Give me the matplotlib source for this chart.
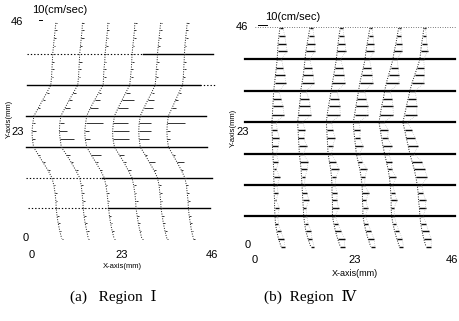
# velocity profiles, Region I / Region IV
import numpy as np
import matplotlib
matplotlib.use("Agg")
import matplotlib.pyplot as plt

plt.rcParams["font.family"] = ["Liberation Sans", "DejaVu Sans"]

# y levels of the measuring points (mm)
levels = [45.8, 44.2, 42.6, 41.0, 39.3, 37.6, 36.0, 34.4, 32.7, 31.1, 29.5, 27.8,
          26.2, 24.6, 22.9, 21.3, 19.6, 18.0, 16.4, 14.7, 13.1, 11.5, 9.9, 8.3,
          6.7, 5.1, 3.5, 1.9, 0.3]
wall_y = [39.3, 32.7, 26.2, 19.6, 13.1, 6.7]

# ---- Region I ----
left_x = [5.6, 12.6, 19.0, 26.0, 32.5, 39.4]
left_off = [
    [0.5, 0.3, 0.1, -0.1, -0.3, -0.4, -0.5, -0.6, -0.8, -1.8, -2.9, -4.0, -5.1, -5.4, -5.6,
     -5.5, -5.2, -4.0, -2.8, -1.5, -0.5, 0.0, 0.3, 0.5, 0.6, 0.8, 1.1, 1.5, 2.0],
    [0.3, 0.2, 0.0, -0.2, -0.4, -0.5, -0.6, -0.7, -0.9, -2.0, -3.1, -4.2, -5.2, -5.5, -5.6,
     -5.4, -5.1, -3.8, -2.6, -1.4, -0.4, 0.0, 0.2, 0.4, 0.5, 0.7, 1.0, 1.4, 1.8],
    [0.4, 0.3, 0.1, -0.1, -0.3, -0.4, -0.6, -0.7, -0.8, -1.9, -3.0, -4.1, -5.0, -5.3, -5.5,
     -5.4, -5.0, -3.9, -2.7, -1.5, -0.5, -0.1, 0.2, 0.4, 0.6, 0.8, 1.1, 1.5, 2.0],
    [0.3, 0.2, 0.0, -0.2, -0.4, -0.5, -0.6, -0.8, -1.0, -2.0, -3.0, -4.0, -4.9, -5.2, -5.4,
     -5.3, -4.9, -3.7, -2.5, -1.4, -0.4, 0.0, 0.3, 0.5, 0.6, 0.9, 1.2, 1.6, 2.1],
    [0.4, 0.2, 0.0, -0.2, -0.4, -0.5, -0.7, -0.8, -1.0, -1.9, -2.9, -3.9, -4.8, -5.1, -5.2,
     -5.1, -4.8, -3.6, -2.5, -1.3, -0.4, 0.0, 0.2, 0.4, 0.5, 0.8, 1.1, 1.5, 2.0],
    [0.3, 0.1, -0.1, -0.3, -0.4, -0.5, -0.6, -0.7, -0.9, -1.8, -2.7, -3.6, -4.5, -4.8, -4.9,
     -4.8, -4.5, -3.4, -2.3, -1.2, -0.3, 0.1, 0.3, 0.5, 0.6, 0.8, 1.1, 1.4, 1.9],
]
left_len = [
    [0.4, 0.6, 0.4, 0.5, 0.2, 0.5, 0.6, 0.4, 0.2, 0.5, 0.6, 0.5, 0.2, 0.6, 0.9,
     0.6, 0.2, 0.5, 0.6, 0.5, 0.2, 0.4, 0.5, 0.4, 0.2, 0.4, 0.5, 0.4, 0.3],
    [0.5, 0.4, 0.6, 0.4, 0.2, 0.6, 0.5, 0.4, 0.2, 0.6, 0.8, 1.2, 0.2, 1.0, 2.0,
     3.6, 0.2, 1.0, 0.6, 0.5, 0.2, 0.5, 0.4, 0.5, 0.2, 0.5, 0.4, 0.5, 0.3],
    [0.4, 0.5, 0.4, 0.6, 0.2, 0.4, 0.6, 0.5, 0.2, 0.6, 1.5, 2.0, 0.2, 4.4, 1.0,
     1.2, 0.2, 2.5, 0.6, 0.4, 0.2, 0.4, 0.5, 0.4, 0.2, 0.5, 0.4, 0.4, 0.3],
    [0.5, 0.4, 0.5, 0.4, 0.2, 0.5, 0.4, 0.6, 0.2, 1.0, 3.0, 2.6, 0.2, 3.8, 4.2,
     4.0, 0.2, 1.2, 0.5, 0.6, 0.2, 0.5, 0.4, 0.5, 0.2, 0.4, 0.5, 0.4, 0.3],
    [0.4, 0.6, 0.4, 0.5, 0.2, 0.6, 0.5, 0.4, 0.2, 0.5, 1.6, 2.4, 0.2, 3.0, 3.2,
     2.6, 0.2, 0.6, 1.5, 0.5, 0.2, 0.4, 0.5, 0.4, 0.2, 0.5, 0.4, 0.5, 0.3],
    [0.5, 0.4, 0.5, 0.4, 0.2, 0.4, 0.5, 0.4, 0.2, 0.5, 0.6, 1.0, 0.2, 4.6, 0.8,
     0.6, 0.2, 0.5, 1.8, 0.4, 0.2, 0.5, 0.4, 0.5, 0.2, 0.4, 0.5, 0.4, 0.3],
]
# wall lines: (y, x_start, x_end)
left_solid = [(39.3, 28.4, 46.4), (32.7, -1.3, 43.0), (26.2, -1.5, 44.5),
              (19.6, -1.5, 44.8), (13.1, 17.9, 46.0), (6.7, 19.4, 45.6)]
left_dotted = [(39.3, -1.3, 28.4), (32.7, 43.0, 47.0), (13.1, -1.5, 17.9),
               (6.7, -1.0, 19.4)]

# ---- Region IV ----
right_x = [5.6, 12.4, 19.4, 26.3, 32.8, 38.8]
right_off = [
    [0.1, -0.1, -0.3, -0.4, -0.5, -0.7, -0.9, -1.1, -1.3, -1.4, -1.5, -1.6, -1.7, -1.7, -1.6,
     -1.6, -1.5, -1.4, -1.3, -1.3, -1.2, -1.2, -1.1, -1.1, -1.0, -0.9, -0.6, -0.2, 0.4],
    [0.2, -0.1, -0.4, -0.7, -0.9, -1.1, -1.3, -1.6, -1.9, -2.0, -2.2, -2.4, -2.6, -2.5, -2.4,
     -2.3, -2.2, -2.0, -1.8, -1.7, -1.6, -1.5, -1.4, -1.3, -1.2, -1.0, -0.7, -0.2, 0.4],
    [0.2, -0.1, -0.3, -0.5, -0.7, -1.0, -1.3, -1.6, -1.9, -2.2, -2.5, -2.8, -3.0, -2.9, -2.8,
     -2.7, -2.6, -2.3, -2.0, -1.8, -1.7, -1.7, -1.6, -1.6, -1.6, -1.3, -0.9, -0.4, 0.2],
    [0.1, -0.2, -0.5, -0.8, -1.0, -1.4, -1.8, -2.2, -2.5, -2.8, -3.1, -3.4, -3.7, -3.6, -3.4,
     -3.2, -3.0, -2.6, -2.2, -1.9, -1.7, -1.6, -1.6, -1.5, -1.5, -1.2, -0.8, -0.3, 0.3],
    [0.2, -0.1, -0.4, -0.8, -1.1, -1.6, -2.1, -2.6, -3.0, -3.3, -3.7, -4.0, -4.3, -4.0, -3.7,
     -3.4, -3.0, -2.6, -2.2, -1.9, -1.7, -1.6, -1.5, -1.5, -1.4, -1.1, -0.7, -0.2, 0.4],
    [0.0, -0.2, -0.5, -0.7, -0.9, -1.5, -2.1, -2.7, -3.2, -3.6, -4.0, -4.4, -4.8, -4.4, -4.0,
     -3.6, -3.2, -2.7, -2.2, -1.8, -1.5, -1.3, -1.2, -1.0, -0.9, -0.7, -0.4, 0.0, 0.5],
]
right_len = [
    [0.8, 1.3, 1.8, 2.2, 1.0, 1.6, 2.1, 2.6, 1.2, 1.8, 2.3, 2.7, 1.0, 1.2, 1.6,
     1.4, 0.8, 1.2, 0.6, 1.4, 0.7, 0.9, 0.4, 1.1, 0.6, 0.7, 0.9, 1.2, 0.9],
    [0.7, 1.2, 1.7, 2.1, 1.1, 1.7, 2.3, 2.8, 1.3, 1.9, 2.5, 2.9, 1.2, 1.6, 1.2,
     1.8, 0.9, 1.8, 1.4, 0.8, 0.6, 1.0, 1.4, 0.6, 0.7, 0.8, 1.2, 0.9, 0.8],
    [0.6, 1.1, 1.6, 2.0, 1.0, 1.8, 2.4, 2.9, 1.4, 2.0, 2.6, 3.0, 1.2, 1.4, 1.8,
     1.2, 0.8, 1.5, 1.9, 1.0, 0.7, 1.2, 1.0, 1.4, 0.6, 1.0, 1.3, 1.6, 1.0],
    [0.6, 1.0, 1.5, 1.9, 1.0, 1.8, 2.5, 3.0, 1.4, 2.1, 2.7, 3.1, 1.3, 1.5, 1.2,
     1.7, 0.8, 1.0, 1.6, 0.9, 0.6, 1.4, 0.8, 1.1, 0.6, 0.9, 1.1, 1.4, 1.0],
    [0.5, 0.9, 1.4, 1.8, 1.0, 1.7, 2.4, 2.9, 1.3, 2.0, 2.6, 3.0, 1.2, 1.8, 1.4,
     2.0, 0.9, 1.2, 0.8, 1.5, 0.6, 0.9, 1.3, 0.7, 0.6, 0.8, 1.0, 1.3, 0.9],
    [0.4, 0.8, 1.2, 1.6, 0.9, 1.6, 2.2, 2.7, 1.2, 1.9, 2.4, 2.8, 1.1, 1.6, 2.0,
     2.2, 1.0, 2.2, 2.4, 2.6, 1.0, 1.2, 1.6, 1.4, 0.8, 1.2, 1.5, 1.7, 1.2],
]

ticks = [0, 23, 46]

W, H = 460, 321
fig = plt.figure(figsize=(W / 100, H / 100), dpi=100)


def make_axes(x0px, sx, y0px, sy, xlim, ylim):
    # pixel mapping: px = x0px + sx*mm ; py = y0px - sy*mm
    l = x0px + sx * xlim[0]
    r = x0px + sx * xlim[1]
    b = y0px - sy * ylim[0]
    t = y0px - sy * ylim[1]
    ax = fig.add_axes([l / W, (H - b) / H, (r - l) / W, (b - t) / H])
    ax.set_xlim(*xlim)
    ax.set_ylim(*ylim)
    ax.axis("off")
    return ax


def draw_profiles(ax, xs, offs, lens, lw_tick, tick_col, tips=False):
    for x0, off, ln in zip(xs, offs, lens):
        cx = x0 + np.array(off)
        ax.plot(cx, levels, ls=(0, (1, 1.5)), lw=0.7, color="0.1")
        ax.hlines(levels, cx, cx + np.array(ln), color=tick_col, lw=lw_tick)
        if tips:
            ax.plot(cx + np.array(ln), levels, ls=(0, (1, 2.5)), lw=0.4, color="0.55")


# (a) Region I
axL = make_axes(32, 3.91, 240, 4.74, (-4, 48), (-3, 48))
for y, a, b in left_solid:
    axL.plot([a, b], [y, y], color="k", lw=1.0)
for y, a, b in left_dotted:
    axL.plot([a, b], [y, y], color="k", lw=0.8, ls=(0, (1.2, 1.8)))
draw_profiles(axL, left_x, left_off, left_len, 0.7, "0.2")
axL.plot([1.8, 2.6], [46.4, 46.4], color="k", lw=0.7, clip_on=False)

for t in ticks:
    axL.text(t, -2.2, str(t), ha="center", va="top", fontsize=8)
axL.text(-2.3, 46, "46", ha="right", va="center", fontsize=8)
axL.text(-2.0, 22.8, "23", ha="right", va="center", fontsize=8)
axL.text(-0.8, 0.4, "0", ha="right", va="center", fontsize=8)
axL.text(23, -4.8, "X-axis(mm)", ha="center", va="top", fontsize=5.5)
axL.text(-5.8, 25.5, "Y-axis(mm)", ha="center", va="center", rotation=90, fontsize=5.5)
axL.text(0, 48.6, "10(cm/sec)", ha="left", va="center", fontsize=8)

# (b) Region IV
axR = make_axes(255, 4.35, 248, 4.8, (-4, 47), (-3, 48))
axR.plot([0, 46], [46, 46], color="k", lw=0.5, ls=(0, (1, 2.5)))
for y in wall_y:
    axR.plot([-2.3, 46], [y, y], color="k", lw=1.6)
draw_profiles(axR, right_x, right_off, right_len, 1.0, "0.05", tips=True)
axR.plot([0.7, 2.8], [46.4, 46.4], color="k", lw=0.7, clip_on=False)

for t in ticks:
    axR.text(min(t, 45.3), -1.5, str(t), ha="center", va="top", fontsize=8)
axR.text(-1.5, 46, "46", ha="right", va="center", fontsize=8)
axR.text(-1.3, 24.2, "23", ha="right", va="center", fontsize=8)
axR.text(-0.9, 0.7, "0", ha="right", va="center", fontsize=8)
axR.text(23, -4.3, "X-axis(mm)", ha="center", va="top", fontsize=6.5)
axR.text(-5.0, 25.0, "Y-axis(mm)", ha="center", va="center", rotation=90, fontsize=5.5)
axR.text(2.3, 48.1, "10(cm/sec)", ha="left", va="center", fontsize=8)

# captions
cap_font = ["Liberation Serif", "DejaVu Serif", "Noto Sans CJK JP"]
fig.text(113 / W, 1 - 297 / H, "(a)   Region  Ⅰ", ha="center", va="center",
         fontsize=11, family=cap_font)
fig.text(310 / W, 1 - 297 / H, "(b)  Region  Ⅳ", ha="center", va="center",
         fontsize=11, family=cap_font)

fig.savefig("out.png", dpi=100)
